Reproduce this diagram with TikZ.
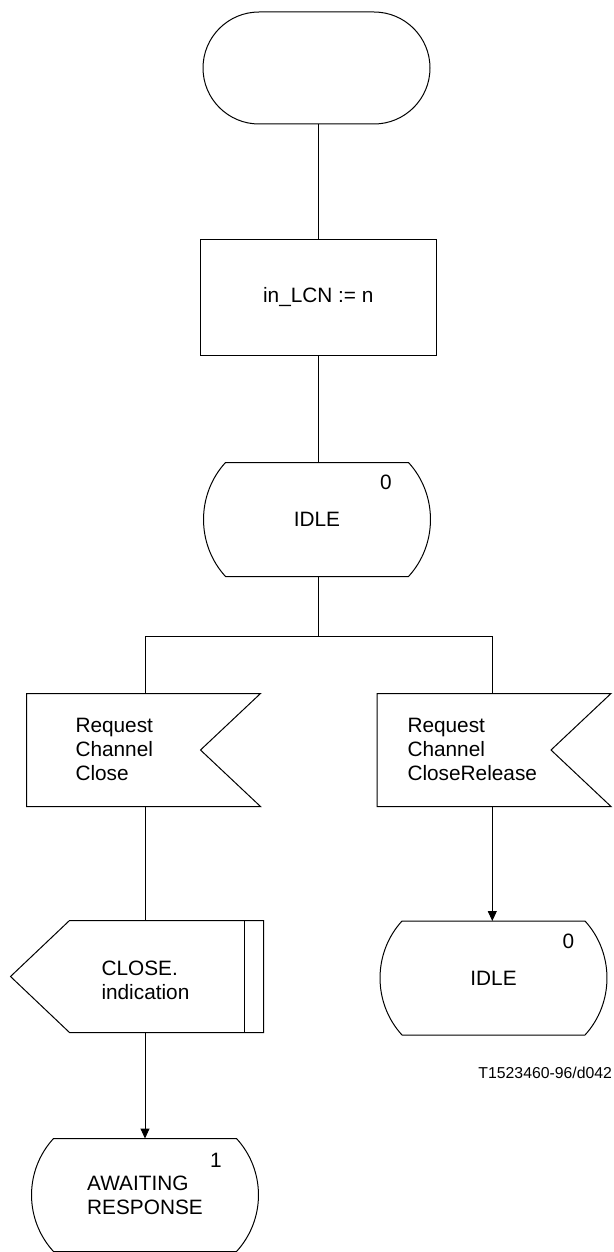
\documentclass[tikz,border=0pt]{standalone}
\usepackage{fontspec}
\setmainfont{Liberation Sans}
\usetikzlibrary{calc,arrows.meta}
\newcommand\stateoutline[1]{%
  \draw ($(#1.north west)+(22,0)$) -- ($(#1.north east)+(-22,0)$)
    .. controls ($(#1.north east)+(7.3,32)$) and ($(#1.south east)+(7.3,-32)$) .. ($(#1.south east)+(-22,0)$)
    -- ($(#1.south west)+(22,0)$)
    .. controls ($(#1.south west)+(-7.3,-32)$) and ($(#1.north west)+(-7.3,32)$) .. cycle;}
\begin{document}
\begin{tikzpicture}[x=1pt,y=-1pt,line width=1pt,
  txt/.style={font=\fontsize{20.8}{24}\selectfont, align=left, inner sep=0pt},
  statebox/.style={txt, align=left, minimum width=226pt, minimum height=113pt},
  inpbox/.style={inner sep=0pt, minimum width=233pt, minimum height=112pt},
  outbox/.style={inner sep=0pt, minimum width=252pt, minimum height=111pt},
  arr/.style={-{Triangle[length=10pt,width=9pt]}}]
\useasboundingbox (0,0) rectangle (613,1252);
% nodes
\node[draw, rounded corners=56pt, minimum width=227pt, minimum height=112pt, inner sep=0pt] (start) at (316.5,68) {};
\node[draw, txt, minimum width=236pt, minimum height=116pt] (task) at (318.3,297) {in\_LCN := n};
\node[statebox] (idle1) at (317,519.5) {IDLE};
\node[inpbox] (in1) at (143.5,750) {};
\node[inpbox] (in2) at (494,750) {};
\node[outbox] (out1) at (137,976.5) {};
\node[statebox] (idle2) at (493.5,978) {IDLE};
\node[statebox, minimum height=112pt] (aw) at (145,1195) {AWAITING\\RESPONSE};
% outlines
\stateoutline{idle1}
\stateoutline{idle2}
\stateoutline{aw}
\draw (in1.north west) -- (in1.north east) -- ($(in1.east)+(-60,0)$) -- (in1.south east) -- (in1.south west) -- cycle;
\draw (in2.north west) -- (in2.north east) -- ($(in2.east)+(-60,0)$) -- (in2.south east) -- (in2.south west) -- cycle;
\draw (out1.west) -- ($(out1.north west)+(59,0)$) -- (out1.north east) -- (out1.south east) -- ($(out1.south west)+(59,0)$) -- cycle;
\draw ($(out1.north east)+(-19,0)$) -- ($(out1.south east)+(-19,0)$);
% texts
\node[txt] (n1) at ($(idle1.center)+(69,-37)$) {0};
\node[txt] (n2) at ($(idle2.center)+(75,-37)$) {0};
\node[txt] (n3) at ($(aw.center)+(71,-35)$) {1};
\node[txt, anchor=west] (t1) at (75,749) {Request\\Channel\\Close};
\node[txt, anchor=west] (t2) at (407,749) {Request\\Channel\\CloseRelease};
\node[txt, anchor=west] (t3) at (101,980) {CLOSE.\\indication};
\node[font=\fontsize{15.8}{19}\selectfont, anchor=east, inner sep=0pt] (lbl) at (612.5,1073) {T1523460-96/d042};
% connectors
\coordinate (br) at (318.3,636);
\coordinate (bl) at (145,636);
\coordinate (bR) at (492.3,636);
\draw (task.north) -- (task.north |- start.south);
\draw (task.south) -- (task.south |- idle1.north);
\draw (task.south |- idle1.south) -- (br);
\draw (bl) -- (bR);
\draw (bl) -- (bl |- in1.north);
\draw (bR) -- (bR |- in2.north);
\draw (bl |- in1.south) -- (bl |- out1.north);
\draw[arr] (bl |- out1.south) -- (bl |- aw.north);
\draw[arr] (bR |- in2.south) -- (bR |- idle2.north);
\end{tikzpicture}
\end{document}
